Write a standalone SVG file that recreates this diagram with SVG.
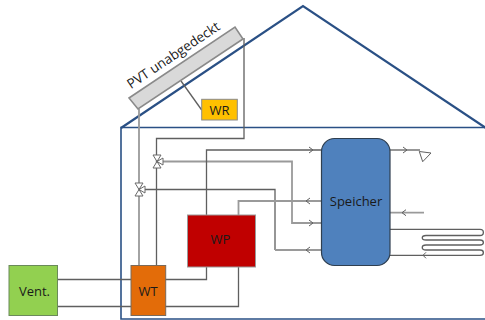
<svg xmlns="http://www.w3.org/2000/svg" width="485" height="320" viewBox="0 0 485 320">
<style>
.t{font-family:"Open Sans","Liberation Sans",sans-serif;font-size:13px;fill:#1a1a1a;text-anchor:middle}
.c{fill:none;stroke:#5f5f5f;stroke-width:1.3}
.g{fill:none;stroke:#9a9a9a;stroke-width:1.8}
.a{fill:none;stroke:#5f5f5f;stroke-width:1}
.v{fill:#fff;stroke:#6a6a6a;stroke-width:1}
</style>
<rect width="485" height="320" fill="#fff"/>
<g id="house" fill="none" stroke="#2a5085">
<path d="M121 128L303 6L486 128" stroke-width="2.2"/>
<path d="M485 127.500H121V319H485" stroke-width="1.6"/>
</g>
<g id="connectors">
<path class="g" d="M139 109V265"/>
<path class="c" d="M244 38V138.500H156.500V265"/>
<path class="c" d="M181 81L201.700 110"/>
<path class="g" d="M157 161.500H292V223H321"/>
<path class="c" d="M139 189.500H275V250"/>
<path class="g" d="M275 250H321"/>
<path class="c" d="M206.500 215V150H321"/>
<path class="g" d="M238.500 215V201H321"/>
<path class="c" d="M57 279.500H131M57 306.500H131"/>
<path class="c" d="M165 279.500H206.500V267M165 306.500H238.500V267"/>
<path class="c" d="M390 150H420"/>
<path class="g" d="M390 212.700H424"/>
<path class="c" d="M390 229.300H480C484.500 229.300 484.500 235.500 480 235.500H426C421 235.500 421 240 426 240H480C484.500 240 484.500 245 480 245H426C421 245 421 250 426 250H480C484.500 250 484.500 255.300 480 255.300H390"/>
<path class="a" d="M309 147L313 150L309 153M309 220L313 223L309 226M310 198L306 201L310 204M310 247L306 250L310 253M403 147L407 150L403 153M406 209.700L402 212.700L406 215.700M426 252.300L423 255.300L426 258.300"/>
</g>
<g id="expansion"><path class="a" d="M419.300 151.500L431 153L422.700 161.700Z"/></g>
<g id="valve-top">
<path class="v" d="M153 155H161L157 161.500ZM153 168H161L157 161.500ZM163 158V165L157 161.500Z"/>
</g>
<g id="valve-bottom">
<path class="v" d="M135 183H143L139 189.500ZM135 196H143L139 189.500ZM145 186V193L139 189.500Z"/>
</g>
<g id="pvt">
<path d="M129 98L235 27L243 39L138 109Z" fill="#d9d9d9" stroke="#8a8a8a" stroke-width="1.6"/>
<text class="t" transform="translate(176 59) rotate(-33.800)" style="font-size:13.500px">PVT unabgedeckt</text>
</g>
<g id="wr">
<rect x="201.700" y="99.300" width="35.600" height="20.700" fill="#ffc000" stroke="#8a8a8a"/>
<text class="t" x="219.500" y="114.500">WR</text>
</g>
<g id="wp">
<rect x="187.500" y="215" width="68" height="52" fill="#c00000" stroke="#9a9a9a"/>
<text class="t" x="220.500" y="243.500">WP</text>
</g>
<g id="wt">
<rect x="131" y="265.500" width="34.700" height="50" fill="#e36c09" stroke="#7a6a5a"/>
<text class="t" x="148" y="296">WT</text>
</g>
<g id="vent">
<rect x="9" y="265.500" width="48.500" height="50" fill="#92d050" stroke="#6a8a5a"/>
<text class="t" x="34.500" y="296">Vent.</text>
</g>
<g id="speicher">
<rect x="321.500" y="138.500" width="68.500" height="127" rx="13" fill="#4f81bd" stroke="#2f3f50" stroke-width="1.2"/>
<text class="t" x="356" y="206">Speicher</text>
</g>
</svg>
